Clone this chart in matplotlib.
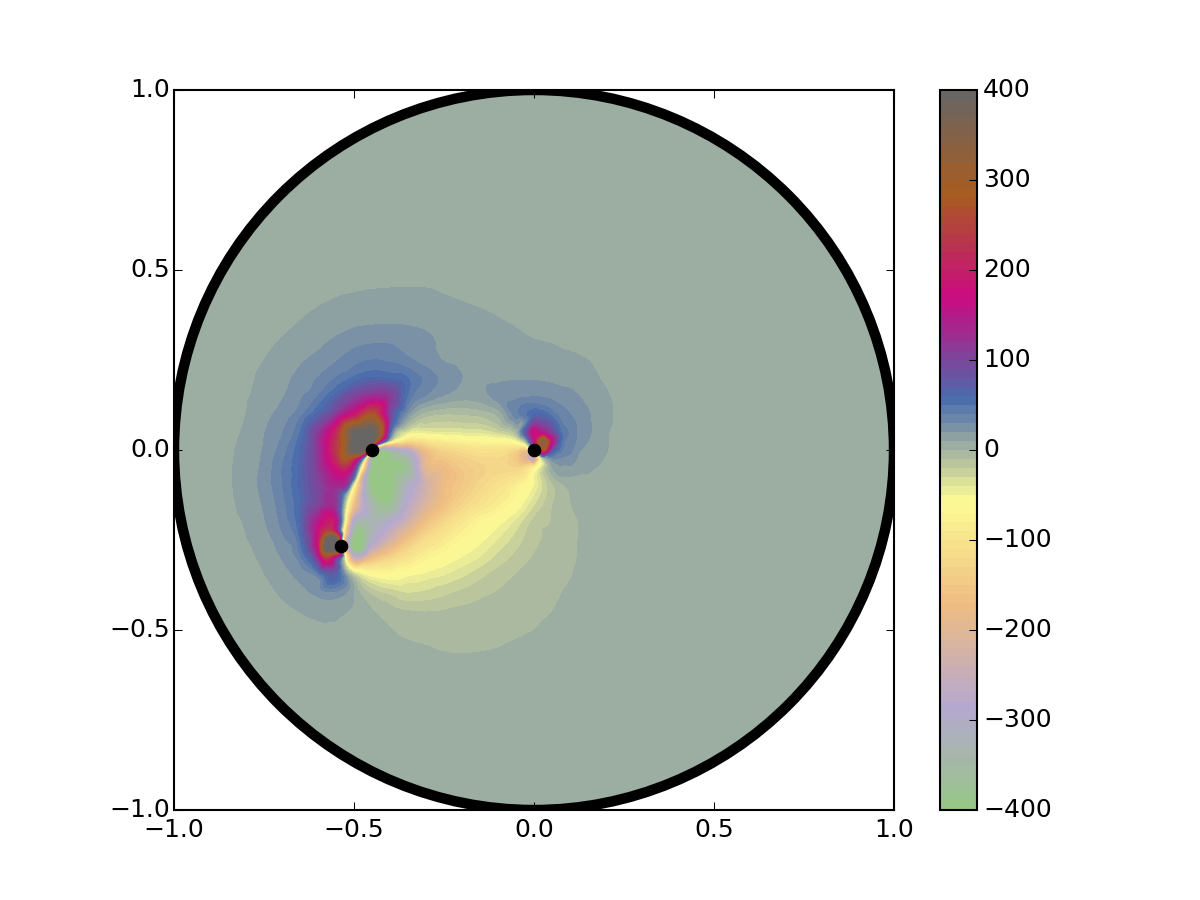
#!/usr/bin/env python3
import numpy as np
import matplotlib
matplotlib.use("Agg")
import matplotlib.pyplot as plt
import matplotlib.tri as tri
from matplotlib.colors import LinearSegmentedColormap
from matplotlib.patches import Circle

plt.style.use("classic")

# dots on the disc
dot_x = [0.0, -0.45, -0.535]
dot_y = [0.0, 0.0, -0.267]

# field, one row per y, one value per x
grid_x = [-0.90, -0.85, -0.80, -0.75, -0.70, -0.65, -0.60, -0.55, -0.50, -0.45, -0.40, -0.35,
          -0.30, -0.25, -0.20, -0.15, -0.10, -0.05, 0.0, 0.05, 0.10, 0.15, 0.20, 0.25]
grid_y = [0.50, 0.45, 0.40, 0.35, 0.30, 0.25, 0.20, 0.15, 0.10, 0.05, 0.0, -0.05, -0.10, -0.15,
          -0.20, -0.25, -0.30, -0.35, -0.40, -0.45, -0.50, -0.55, -0.60]
grid_z = [
    [3] * 24,
    [3, 3, 3, 3, 3.5, 4.5, 6, 7.5, 8.5, 9.5, 10, 10.2, 10, 8.5, 7, 5.5, 4.5, 3.5, 3, 3, 3, 3, 3, 3],
    [3, 3, 3.5, 4.5, 6, 8, 9.8, 12, 14, 15.5, 16, 15.5, 14, 12.5, 11, 9.5, 8, 6.5, 5, 4, 3, 3, 3, 3],
    [3, 3, 4, 6, 8, 10.5, 13, 16, 18.5, 19.5, 19.8, 19.5, 18.5, 16.5, 14.5, 13, 11, 9.5, 8, 6.5, 5, 4, 3, 3],
    [3, 4, 6, 8, 10.8, 13.5, 17.5, 22, 27, 29, 29, 26, 22, 18, 15, 14, 13, 11.5, 10.5, 9.5, 7.5, 5.5, 4, 3],
    [4, 5.5, 7.5, 10, 13.5, 18.5, 23, 29, 36, 40, 38, 32, 25, 19.5, 17, 16, 15.5, 15.5, 15, 14, 12.5, 10, 7, 5],
    [5, 6, 8.3, 12, 17, 23, 30.5, 40.5, 52, 62, 58, 50, 37, 27, 20, 18, 18, 19, 19, 18, 16, 12.5, 8.5, 5.5],
    [6, 7, 9.2, 13, 19, 28, 40, 65, 100, 125, 110, 48, 29, 19, 14, 16, 24, 27, 29, 27, 23, 17, 11, 7],
    [6.5, 7.5, 10, 17, 24, 36, 62, 110, 180, 270, 100, 22, -5, -10, -9, -7, 3, 36, 60, 45, 30, 21, 12, 7.5],
    [7, 8, 11.5, 19.5, 29, 50, 110, 210, 390, 400, 60, -40, -45, -42, -40, -38, -28, -3, 170, 95, 38, 22, 11, 7.5],
    [6.5, 8.7, 13, 21, 35, 60, 115, 230, 400, 0, -340, -280, -170, -130, -115, -105, -105, -130, 0, 85, 33, 17, 10.5, 6],
    [7, 9, 14, 23, 40, 62, 110, 180, 120, -400, -400, -370, -200, -175, -150, -135, -125, -130, -80, 9, 18, 11.5, 8, 5.5],
    [7, 9, 14, 24, 39, 62, 100, 130, -70, -400, -400, -310, -235, -175, -150, -125, -105, -80, -50, -13, 2, 7.5, 5.5, 4.5],
    [7, 8.5, 13, 21.5, 36, 60, 100, 110, -170, -340, -380, -280, -215, -165, -130, -105, -85, -63, -33, -11, -0.5, 3.5, 4, 3],
    [5.5, 7.5, 11, 19, 33, 60, 150, 160, -310, -330, -295, -235, -165, -125, -95, -70, -57, -38, -17, -9.5, -2.5, 2, 3, 3],
    [4, 6.5, 9.5, 15.5, 27, 50, 180, 400, -400, -310, -230, -160, -115, -90, -70, -55, -40, -26, -13, -7, -2, 2, 3, 3],
    [3, 5, 8, 12, 20.5, 36, 120, 120, -250, -175, -130, -100, -75, -62, -50, -40, -27, -17, -9, -5, -1.5, 2, 3, 3],
    [3, 3, 6.5, 9.5, 15, 23, 33, 65, -15, -55, -62, -52, -46, -40, -32, -23, -15, -9.5, -6, -3, -0.3, 2, 3, 3],
    [3, 3, 4, 7, 11, 16, 22, 25, 9, -12, -22, -29, -27, -22, -17, -12.5, -9, -6, -3.5, -1.5, 1.2, 2.5, 3, 3],
    [3, 3, 3, 4, 7.5, 10, 12.5, 12, 8, 1, -5, -9, -10, -9, -7.5, -6, -4.5, -3, -1.5, 0, 2, 3, 3, 3],
    [3, 3, 3, 3, 4.5, 6, 8, 8.5, 6, 3.5, 0.5, -2.5, -4, -4.5, -4, -3.5, -2.5, -1.5, 0, 1.5, 2.5, 3, 3, 3],
    [3, 3, 3, 3, 3, 3, 4, 4, 3.5, 3, 2.5, 1.5, 0.5, -0.8, -1.2, -0.8, 0, 1.5, 2.5, 3, 3, 3, 3, 3],
    [3] * 24,
]

# closer readings around the three dots
near_x = [-0.5, -0.475, -0.45, -0.425, -0.40, -0.375, -0.35, -0.475, -0.425, -0.525, -0.525, -0.5,
          -0.475, -0.45, -0.425, -0.40, -0.475, -0.425, -0.525, -0.5, -0.475, -0.475, -0.525, -0.525, -0.525,
          -0.525, -0.525, -0.55, -0.575, -0.575, -0.575, -0.55, -0.575, -0.525, -0.525, -0.525, -0.55, -0.5,
          0.025, 0.0, -0.025, 0.05, 0.025, 0.025, -0.025, 0.0, -0.025, 0.025, 0.05, -0.025, -0.05,
          0.025, 0.025, 0.075, 0.075, 0.075, 0.075, 0.075, 0.05, 0.0, -0.025, -0.025, 0.125, 0.125, 0.125]
near_y = [0.025, 0.025, 0.025, 0.025, 0.025, 0.025, 0.025, 0.05, 0.05, 0.025, -0.025, -0.025,
          -0.025, -0.025, -0.025, -0.025, 0.0, 0.0, -0.075, -0.075, -0.075, -0.05, -0.125, -0.175, -0.10,
          -0.20, -0.225, -0.225, -0.225, -0.25, -0.275, -0.275, -0.30, -0.25, -0.30, -0.325, -0.325, -0.275,
          0.025, 0.025, 0.025, 0.025, 0.05, 0.0, 0.0, -0.025, -0.025, -0.025, -0.025, 0.05, 0.025,
          0.10, 0.075, 0.075, 0.05, 0.025, 0.0, -0.025, 0.075, 0.075, 0.075, 0.10, 0.05, 0.0, 0.10]
near_z = [400, 400, 400, 150, -30, -90, -120, 400, 300, 300, 280, 220,
          20, -400, -400, -390, 400, -380, 150, 50, -250, -120, 20, -40, 120,
          -60, -120, 170, 240, 390, 400, 400, 230, -200, -50, -10, 90, -400,
          340, 150, -10, 160, 140, 260, -160, -260, -200, -20, 25, 70, -55,
          57, 90, 42, 50, 55, 42, 27, 70, 100, 28, 47, 28, 21, 25]

# colours along the colour bar
stop_values = [-400, -286, -171, -57, 57, 171, 286, 400]
stop_colors = ["#97c785", "#b5a8d0", "#efbd82", "#fdfb95", "#4a6bac", "#cc0a80", "#a85c20", "#666666"]
levels = np.arange(-400, 401, 10)
cbar_ticks = [-400, -300, -200, -100, 0, 100, 200, 300, 400]
axis_ticks = [-1.0, -0.5, 0.0, 0.5, 1.0]

cmap = LinearSegmentedColormap.from_list(
    "bar", [((v + 400) / 800, c) for v, c in zip(stop_values, stop_colors)], N=256)

gx, gy = np.meshgrid(grid_x, grid_y)
xs = np.concatenate([gx.ravel(), near_x])
ys = np.concatenate([gy.ravel(), near_y])
zs = np.concatenate([np.array(grid_z, dtype=float).ravel(), near_z])

# smooth the hand readings a bit so the bands are not faceted
triang = tri.Triangulation(xs, ys)
refiner = tri.UniformTriRefiner(triang)
interp = tri.CubicTriInterpolator(triang, zs, kind="geom")
fine_tri, fine_z = refiner.refine_field(zs, triinterpolator=interp, subdiv=3)
fine_z = np.clip(fine_z, -399.5, 399.5)

fig = plt.figure(figsize=(8, 6))
ax = fig.add_axes([174 / 1200, 0.1, 720 / 1200, 0.8])
cax = fig.add_axes([940 / 1200, 0.1, 37 / 1200, 0.8])

norm = plt.Normalize(-400, 400)
disc = Circle((0, 0), 1.0, facecolor=cmap(norm(5)), edgecolor="none", zorder=1)
ax.add_patch(disc)
cs = ax.tricontourf(fine_tri, fine_z, levels=levels, cmap=cmap, norm=norm, zorder=1.1)
cs.set_clip_path(disc)
ax.add_patch(Circle((0, 0), 1.0, facecolor="none", edgecolor="black", linewidth=5, zorder=1.2))
ax.plot(dot_x, dot_y, "o", color="black", markersize=6, linestyle="none", zorder=1.3)

ax.set_xlim(-1, 1)
ax.set_ylim(-1, 1)
ax.set_xticks(axis_ticks)
ax.set_yticks(axis_ticks)
ax.tick_params(axis="y", pad=2)

cb = fig.colorbar(cs, cax=cax, ticks=cbar_ticks)
cb.ax.tick_params(pad=3)

fig.savefig("out.png", dpi=150)
